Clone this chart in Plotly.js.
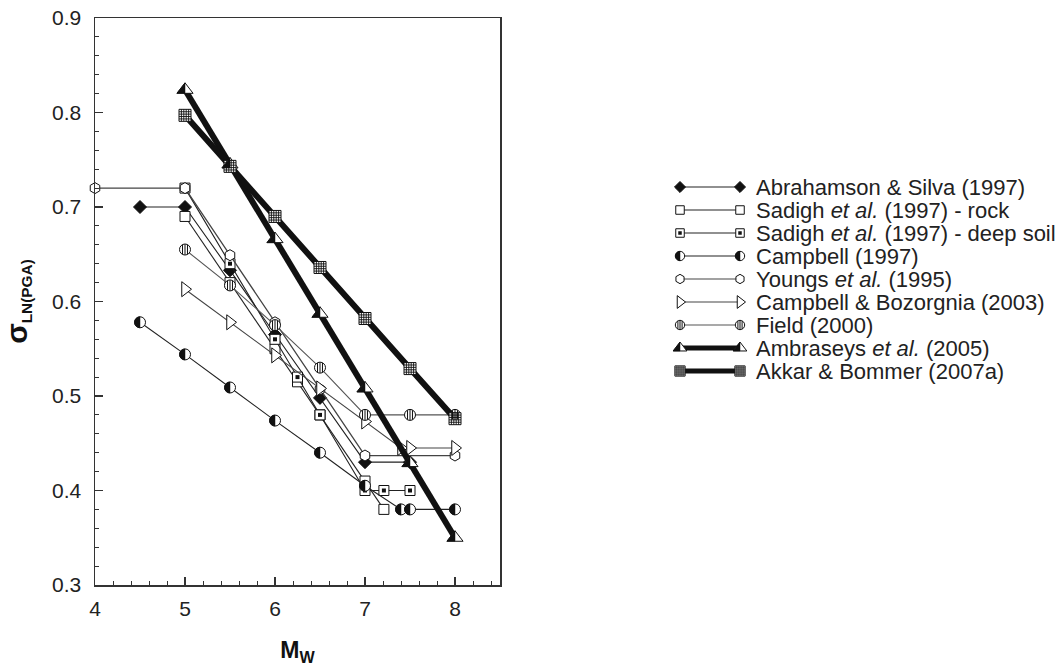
<!DOCTYPE html>
<html><head><meta charset="utf-8">
<script src="https://cdn.plot.ly/plotly-3.0.1.min.js"></script>
<style>html,body{margin:0;padding:0;background:#fff}#chart{width:1058px;height:666px}</style>
</head><body><div id="chart"></div>
<script>
// ---- data ----
const seriesNames = [
  'Abrahamson & Silva (1997)',
  'Sadigh <i>et al.</i> (1997) - rock',
  'Sadigh <i>et al.</i> (1997) - deep soil',
  'Campbell (1997)',
  'Youngs <i>et al.</i> (1995)',
  'Campbell & Bozorgnia (2003)',
  'Field (2000)',
  'Ambraseys <i>et al.</i> (2005)',
  'Akkar & Bommer (2007a)'
];
const M_abrahamson = [4.5, 5, 5.5, 6, 6.5, 7, 7.5];
const S_abrahamson = [0.70, 0.70, 0.633, 0.565, 0.498, 0.43, 0.43];
const M_sadighRock = [5, 5.5, 6, 6.25, 6.5, 7, 7.21];
const S_sadighRock = [0.69, 0.62, 0.55, 0.515, 0.48, 0.41, 0.38];
const M_sadighSoil = [5, 5.5, 6, 6.25, 6.5, 7, 7.21, 7.5];
const S_sadighSoil = [0.72, 0.64, 0.56, 0.52, 0.48, 0.40, 0.40, 0.40];
const M_campbell = [4.5, 5, 5.5, 6, 6.5, 7, 7.4, 7.5, 8];
const S_campbell = [0.578, 0.544, 0.509, 0.474, 0.44, 0.405, 0.38, 0.38, 0.38];
const M_youngs = [4, 5, 5.5, 6, 6.5, 7, 8];
const S_youngs = [0.72, 0.72, 0.649, 0.578, 0.507, 0.437, 0.437];
const M_cb = [5, 5.5, 6, 6.5, 7, 7.4, 7.5, 8];
const S_cb = [0.613, 0.578, 0.543, 0.508, 0.473, 0.445, 0.445, 0.445];
const M_field = [5, 5.5, 6, 6.5, 7, 7.5, 8];
const S_field = [0.655, 0.617, 0.575, 0.53, 0.48, 0.48, 0.48];
const M_ambraseys = [5, 5.5, 6, 6.5, 7, 7.5, 8];
const S_ambraseys = [0.824, 0.745, 0.666, 0.587, 0.508, 0.429, 0.35];
const M_akkar = [5, 5.5, 6, 6.5, 7, 7.5, 8];
const S_akkar = [0.797, 0.743, 0.69, 0.636, 0.582, 0.529, 0.476];

const xTickVals = [4, 5, 6, 7, 8];
const yTickVals = [0.3, 0.4, 0.5, 0.6, 0.7, 0.8, 0.9];

// ---- styles ----
const INK = '#111';
const FONT = 'Liberation Sans, Arial, Helvetica, sans-serif';
const data = [
  {x: M_abrahamson, y: S_abrahamson, sym: 'diamond', fill: INK, size: 10, lw: 1.1, lc: '#222'},
  {x: M_sadighRock, y: S_sadighRock, sym: 'square', fill: '#fff', size: 10, lw: 1.1, lc: '#222'},
  {x: M_sadighSoil, y: S_sadighSoil, sym: 'square', fill: '#fff', size: 10, lw: 1.1, lc: '#222', dot: true},
  {x: M_campbell, y: S_campbell, sym: 'circle', fill: '#fff', size: 11, lw: 1.1, lc: '#222', deco: 'half'},
  {x: M_youngs, y: S_youngs, sym: 'hexagon', fill: '#fff', size: 11, lw: 1.3, lc: '#444'},
  {x: M_cb, y: S_cb, sym: 'triangle-right', fill: '#fff', size: 13, lw: 1.1, lc: '#444'},
  {x: M_field, y: S_field, sym: 'circle', fill: '#fff', size: 11, lw: 1.1, lc: '#555', deco: 'stripes'},
  {x: M_ambraseys, y: S_ambraseys, sym: 'triangle-up', fill: '#fff', size: 14, lw: 6, lc: INK, deco: 'halftri'},
  {x: M_akkar, y: S_akkar, sym: 'square', fill: '#fff', size: 12, lw: 6, lc: INK, deco: 'grid'}
];

function decoShapes(kind, xs, ys, xref, yref, size) {
  const r = size / 2, k = 0.5523;
  const out = [];
  xs.forEach((xv, i) => {
    let path, fill = 'rgba(0,0,0,0)', lw = 1;
    if (kind === 'half') {
      path = `M0,${r} C${-k*r},${r} ${-r},${k*r} ${-r},0 C${-r},${-k*r} ${-k*r},${-r} 0,${-r} Z`;
      fill = INK; lw = 0.5;
    } else if (kind === 'stripes') {
      path = [-0.45 * r, 0, 0.45 * r].map(px => {
        const h = Math.sqrt(r * r - px * px) * 0.95;
        return `M${px},${-h} L${px},${h}`;
      }).join(' ');
    } else if (kind === 'halftri') {
      const rt = r * 2 / Math.sqrt(3);
      path = `M0,${r} L${-rt},${-r/2} L0,${-r/2} Z`;
      fill = INK; lw = 0.5;
    } else if (kind === 'grid') {
      const parts = [];
      for (let j = 1; j <= 4; j++) {
        const c = -r + j * size / 5;
        parts.push(`M${c},${-r} L${c},${r}`, `M${-r},${c} L${r},${c}`);
      }
      path = parts.join(' ');
      lw = 0.9;
    }
    out.push({type: 'path', xref, yref, xsizemode: 'pixel', ysizemode: 'pixel',
      xanchor: xv, yanchor: ys[i], path, fillcolor: fill,
      line: {color: INK, width: lw}, layer: 'above'});
  });
  return out;
}

const traces = [];
const shapes = [];
const annotations = [];
// legend sample axis: left marker at 1, right marker at 2
const legendEnds = [1, 2];
data.forEach((s, i) => {
  traces.push({
    type: 'scatter', mode: 'lines+markers', x: s.x, y: s.y, name: seriesNames[i].replace(/<\/?i>/g, ''),
    xaxis: 'x', yaxis: 'y', showlegend: false, cliponaxis: false,
    line: {color: s.lc, width: s.lw},
    marker: {symbol: s.sym, size: s.size, color: s.fill, line: {color: INK, width: 1}}
  });
  if (s.dot) {
    traces.push({type: 'scatter', mode: 'markers', x: s.x, y: s.y, xaxis: 'x', yaxis: 'y',
      showlegend: false, hoverinfo: 'skip', cliponaxis: false,
      marker: {symbol: 'square', size: 4, color: INK}});
  }
  if (s.deco) shapes.push(...decoShapes(s.deco, s.x, s.y, 'x', 'y', s.size));

  // custom legend entry (line with a marker at each end)
  const ly = legendEnds.map(() => i + 1);
  const ls = s.size * 0.85;
  traces.push({
    type: 'scatter', mode: 'lines+markers', x: legendEnds, y: ly, xaxis: 'x2', yaxis: 'y2',
    showlegend: false, hoverinfo: 'skip', cliponaxis: false,
    line: {color: s.lc, width: s.lw > 3 ? 5 : 1.1},
    marker: {symbol: s.sym, size: ls, color: s.fill, line: {color: INK, width: 1}}
  });
  if (s.dot) {
    traces.push({type: 'scatter', mode: 'markers', x: legendEnds, y: ly, xaxis: 'x2', yaxis: 'y2',
      showlegend: false, hoverinfo: 'skip', cliponaxis: false,
      marker: {symbol: 'square', size: 3.5, color: INK}});
  }
  if (s.deco) shapes.push(...decoShapes(s.deco, legendEnds, ly, 'x2', 'y2', ls));
  annotations.push({xref: 'x2', yref: 'y2', x: legendEnds[1], y: i + 1, xanchor: 'left', yanchor: 'middle',
    xshift: 14, text: seriesNames[i], showarrow: false,
    font: {family: FONT, size: 22, color: '#222'}});
});

const W = 1058, H = 666;
const mL = 95, mR = 2, mT = 18, mB = 81;
const pw = W - mL - mR, ph = H - mT - mB;
const plotRight = 500;
// legend sample area in pixels: left marker at 680, right marker at 740, padded by 0.3 unit on each side
const lgPad = 0.3, lgLeft = 680, lgRight = 740, lgUnit = lgRight - lgLeft;

const axisCommon = {
  showgrid: false, zeroline: false, showline: true, linecolor: '#333', linewidth: 1.5,
  mirror: true, ticks: 'inside', ticklen: 8, tickwidth: 1.5, tickcolor: '#333',
  tickfont: {family: FONT, size: 21, color: '#222'}, automargin: false
};

const layout = {
  width: W, height: H,
  margin: {l: mL, r: mR, t: mT, b: mB},
  paper_bgcolor: '#fff', plot_bgcolor: '#fff',
  showlegend: false,
  xaxis: Object.assign({}, axisCommon, {
    domain: [0, (plotRight - mL) / pw], range: [4, 8.5],
    tickvals: xTickVals, ticklabelstandoff: 4,
    minor: {dtick: 0.2, tick0: 4, ticks: 'inside', ticklen: 4, tickwidth: 1, tickcolor: '#333', showgrid: false},
    title: {text: '<b>M<sub>W</sub></b>', font: {family: FONT, size: 23, color: '#111'}, standoff: 27}
  }),
  yaxis: Object.assign({}, axisCommon, {
    domain: [0, 1], range: [0.3, 0.9],
    tickvals: yTickVals, tickformat: '.1f', ticklabelstandoff: 8,
    minor: {dtick: 0.02, tick0: 0.3, ticks: 'inside', ticklen: 4, tickwidth: 1, tickcolor: '#333', showgrid: false},
    title: {text: '<b><span style="font-size:30px">σ</span><sub>LN(PGA)</sub></b>', font: {family: FONT, size: 22, color: '#111'}, standoff: 18}
  }),
  xaxis2: {
    domain: [(lgLeft - lgPad * lgUnit - mL) / pw, (lgRight + lgPad * lgUnit - mL) / pw],
    range: [legendEnds[0] - lgPad, legendEnds[1] + lgPad], visible: false, anchor: 'y2', fixedrange: true
  },
  yaxis2: {domain: [(mT + ph - 382.5) / ph, (mT + ph - 175.5) / ph], range: [seriesNames.length + 0.5, 0.5], visible: false, anchor: 'x2', fixedrange: true},
  shapes, annotations
};

Plotly.newPlot('chart', traces, layout, {displayModeBar: false, staticPlot: true});
</script>
</body></html>
